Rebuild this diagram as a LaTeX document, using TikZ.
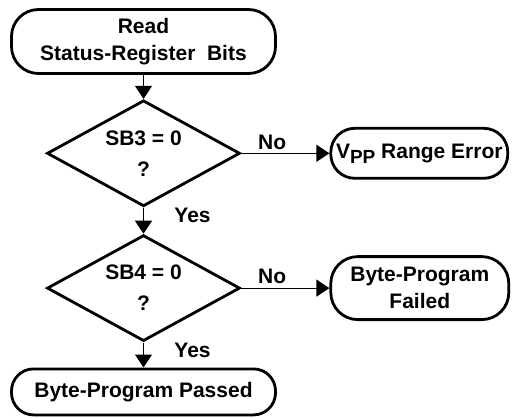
\documentclass[tikz,border=0pt]{standalone}
\usepackage{fontspec}
\setmainfont{Liberation Sans}
\usepackage{tikz}
\usetikzlibrary{arrows.meta,shapes,positioning}
\tikzstyle{term} = [rectangle, draw, line width=2.8pt, rounded corners=22pt, align=center, inner sep=2pt, font=\fontsize{21}{27}\selectfont\bfseries]
\tikzstyle{decision} = [diamond, draw, line width=2.8pt, aspect=1.8, minimum width=193pt, minimum height=106pt, inner sep=0pt, align=center, font=\fontsize{21}{31}\selectfont\bfseries]
\tikzstyle{line} = [draw, line width=1.2pt, -{Triangle[length=13pt,width=17pt]}]
\tikzstyle{tag} = [font=\fontsize{21}{25}\selectfont\bfseries]

\begin{document}
\begin{tikzpicture}
		\useasboundingbox (0,0) rectangle (513pt,-417pt);
		% Place nodes
		\node [term, rounded corners=27pt, minimum width=264pt, minimum height=64pt] (read) at (143.5pt,-41.5pt) {Read\\Status-Register\ \ Bits};
		\node [decision, below=24pt of read] (sb3) {SB3 = 0\\?};
		\node [decision, below=26pt of sb3] (sb4) {SB4 = 0\\?};
		\node [term, minimum width=264pt, minimum height=46pt, below=25pt of sb4] (passed) {Byte-Program Passed};
		\node [term, rounded corners=24pt, minimum width=177pt, minimum height=50pt, right=88pt of sb3] (vpp) {V\raisebox{-5pt}{\fontsize{19}{19}\selectfont PP} Range Error};
		\node [term, rounded corners=27pt, minimum width=178pt, minimum height=63pt, right=88pt of sb4] (failed) {Byte-Program\\Failed};
		% Draw edges
		\path [line] (read) -- (sb3);
		\path [line] (sb3) -- node[tag, right, pos=0.3, xshift=27pt] {Yes} (sb4);
		\path [line] (sb4) -- node[tag, right, pos=0.3, xshift=27pt] {Yes} (passed);
		\path [line] (sb3) -- node[tag, above, pos=0.35] {No} (vpp);
		\path [line] (sb4) -- node[tag, above, pos=0.35] {No} (failed);
	\end{tikzpicture}
\end{document}
